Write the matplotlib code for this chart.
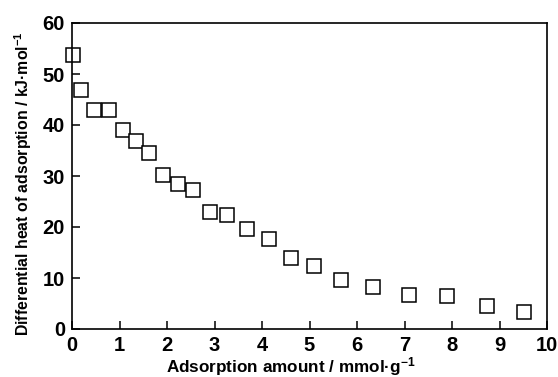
import matplotlib
matplotlib.use("Agg")
import matplotlib.pyplot as plt

amount = [0.03, 0.18, 0.47, 0.77, 1.07, 1.35, 1.62, 1.92, 2.23, 2.55, 2.90, 3.26,
          3.68, 4.14, 4.60, 5.09, 5.66, 6.34, 7.09, 7.89, 8.74, 9.52]
heat = [53.7, 46.8, 42.9, 42.9, 39.0, 36.9, 34.5, 30.2, 28.5, 27.2, 22.9, 22.4,
        19.7, 17.6, 13.9, 12.3, 9.6, 8.2, 6.6, 6.5, 4.5, 3.4]
xticks = list(range(0, 11))
yticks = [0, 10, 20, 30, 40, 50, 60]

plt.rcParams['font.family'] = ['Liberation Sans', 'DejaVu Sans']
plt.rcParams['font.weight'] = 'bold'
plt.rcParams['mathtext.fontset'] = 'custom'
plt.rcParams['mathtext.rm'] = 'Liberation Sans:bold'
plt.rcParams['mathtext.bf'] = 'Liberation Sans:bold'
plt.rcParams['mathtext.it'] = 'Liberation Sans:bold'

fig = plt.figure(figsize=(5.58, 3.77), dpi=100)
ax = fig.add_axes([72/558, 1-329/377, (547-72)/558, (329-23)/377])
ax.plot(amount, heat, linestyle='none', marker='s', markersize=10,
        markerfacecolor='white', markeredgecolor='black', markeredgewidth=1.1,
        clip_on=False)
ax.set_xlim(0, 10)
ax.set_ylim(0, 60)
ax.set_xticks(xticks)
ax.set_yticks(yticks)
ax.tick_params(direction='in', length=6, width=1.1, labelsize=14.5, pad=5)
for lab in ax.get_xticklabels() + ax.get_yticklabels():
    lab.set_fontweight('bold')
for s in ax.spines.values():
    s.set_linewidth(1.2)
ax.set_xlabel('Adsorption amount / mmol·g$^{-1}$', fontsize=12.3, fontweight='bold')
ax.set_ylabel('Differential heat of adsorption / kJ·mol$^{-1}$', fontsize=11.4, fontweight='bold')
ax.xaxis.set_label_coords((291-72)/(547-72), -(355-329)/(329-23))
ax.yaxis.set_label_coords(-(72-34)/(547-72), (329-184)/(329-23))
fig.savefig('out.png', dpi=100)
